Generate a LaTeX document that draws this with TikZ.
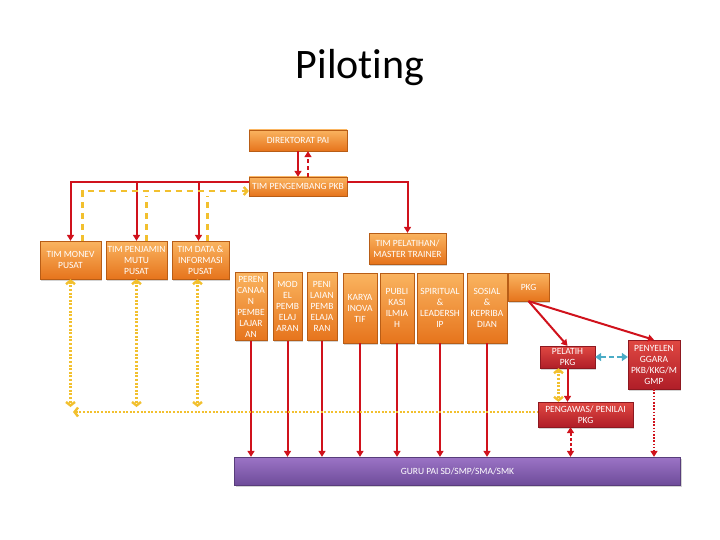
\documentclass[tikz,border=0pt]{standalone}
\usepackage{fontspec}
\setmainfont{Carlito}
\usetikzlibrary{arrows.meta,shadows}

\definecolor{oratas}{RGB}{250,180,96}
\definecolor{orbawah}{RGB}{230,116,28}
\definecolor{mratas}{RGB}{224,72,66}
\definecolor{mrbawah}{RGB}{176,30,40}
\definecolor{ungatas}{RGB}{156,116,198}
\definecolor{ungbawah}{RGB}{110,76,154}
\definecolor{merah}{RGB}{208,18,28}
\definecolor{kuning}{RGB}{242,192,46}
\definecolor{biru}{RGB}{75,172,198}

\begin{document}
\begin{tikzpicture}[x=1pt, y=-1pt]
	% Gaya kotak dan panah
	\tikzset{
		kotak/.style={rectangle, draw=orbawah!80!black, line width=0.3pt, top color=oratas, bottom color=orbawah, text=white, font=\fontsize{9.5}{11}\selectfont, align=center, inner sep=1pt, drop shadow={opacity=0.35, shadow xshift=1.2pt, shadow yshift=-1.5pt}},
		kotakmerah/.style={kotak, draw=mrbawah!80!black, top color=mratas, bottom color=mrbawah},
		kotakungu/.style={kotak, draw=ungbawah!80!black, top color=ungatas, bottom color=ungbawah},
		panah/.style={draw=merah, line width=2pt, -{Triangle[length=6pt, width=7pt]}},
		garisputus/.style={draw=kuning, line width=2.4pt, dash pattern=on 6pt off 5pt, -{Straight Barb[length=3.5pt, width=8pt]}},
		garistitik/.style={draw=kuning, line width=2.4pt, dash pattern=on 2pt off 1.6pt, {Straight Barb[length=3.5pt, width=9pt]}-{Straight Barb[length=3.5pt, width=9pt]}}
	}
	\useasboundingbox (0,0) rectangle (720,540);

	% Judul
	\node[font=\fontsize{42}{42}\selectfont\addfontfeature{Ligatures=NoCommon}] (judul) at (360,68) {Piloting};

	% Tingkat atas
	\node[kotak, minimum width=98pt, minimum height=21pt] (dir) at (298,140.5) {DIREKTORAT PAI};
	\node[kotak, minimum width=98pt, minimum height=19pt] (pkb) at (298,186.5) {TIM PENGEMBANG PKB};

	% Tim pusat
	\node[kotak, minimum width=61pt, minimum height=38pt] (monev) at (70.5,260) {TIM MONEV\\PUSAT};
	\node[kotak, minimum width=61pt, minimum height=38pt] (mutu) at (136.5,260) {TIM PENJAMIN\\MUTU\\PUSAT};
	\node[kotak, minimum width=57pt, minimum height=38pt] (data) at (200.5,260) {TIM DATA \&\\INFORMASI\\PUSAT};
	\node[kotak, minimum width=77pt, minimum height=31pt] (pelatihan) at (407.5,248.5) {TIM PELATIHAN/\\MASTER TRAINER};

	% Materi pelatihan
	\node[kotak, minimum width=32pt, minimum height=68pt] (perenc) at (251,306.5) {PEREN\\CANAA\\N\\PEMBE\\LAJAR\\AN};
	\node[kotak, minimum width=29pt, minimum height=68pt] (model) at (287.5,306.5) {MOD\\EL\\PEMB\\ELAJ\\ARAN};
	\node[kotak, minimum width=30pt, minimum height=68pt] (nilai) at (322,306.5) {PENI\\LAIAN\\PEMB\\ELAJA\\RAN};
	\node[kotak, minimum width=34pt, minimum height=70pt] (karya) at (360,308) {KARYA\\INOVA\\TIF};
	\node[kotak, minimum width=34pt, minimum height=70pt] (publik) at (397,308) {PUBLI\\KASI\\ILMIA\\H};
	\node[kotak, minimum width=46pt, minimum height=70pt] (spirit) at (440,308) {SPIRITUAL\\\&\\LEADERSH\\IP};
	\node[kotak, minimum width=40pt, minimum height=70pt] (sosial) at (487,308) {SOSIAL\\\&\\KEPRIBA\\DIAN};
	\node[kotak, minimum width=41pt, minimum height=28pt] (pkg) at (528.5,287) {PKG};

	% Pelaksana PKG
	\node[kotakmerah, minimum width=55pt, minimum height=22pt] (pelatih) at (567.5,357) {PELATIH\\PKG};
	\node[kotakmerah, minimum width=52pt, minimum height=49pt] (penyel) at (654,364.5) {PENYELEN\\GGARA\\PKB/KKG/M\\GMP};
	\node[kotakmerah, minimum width=95pt, minimum height=25pt] (pengawas) at (585.5,414.5) {PENGAWAS/ PENILAI\\PKG};

	% Sasaran
	\node[kotakungu, minimum width=446pt, minimum height=28pt] (guru) at (457.5,471) {GURU PAI SD/SMP/SMA/SMK};

	% Titik bantu
	\coordinate (kiri) at (73,412);
	\coordinate (bawah) at (0,407);

	% Direktorat - tim pengembang
	\draw[panah] (dir.south) -- (pkb.north);
	\draw[panah, dash pattern=on 4pt off 3pt] ([xshift=10pt]pkb.north) -- ([xshift=10pt]dir.south);

	% Tim pengembang ke tim pusat
	\draw[panah] ([yshift=4pt]pkb.west) -| (monev.north);
	\draw[panah] ([yshift=4pt]pkb.west) -| (mutu.north);
	\draw[panah] ([yshift=4pt]pkb.west) -| ([xshift=-2pt]data.north);
	\draw[panah] ([yshift=4pt]pkb.east) -| (pelatihan.north);

	% Umpan balik tim pusat
	\draw[garisputus] ([xshift=12pt]monev.north) |- ([yshift=-4.5pt]pkb.west);
	\draw[garisputus, -] ([xshift=10pt]mutu.north) -- ([xshift=10pt]mutu.north |- pkb.south);
	\draw[garisputus, -] ([xshift=7pt]data.north) -- ([xshift=7pt]data.north |- pkb.south);

	% Materi ke guru
	\foreach \k in {perenc, model, nilai, karya, publik, spirit, sosial}
		\draw[panah] (\k.south) -- (\k.south |- guru.north);

	% PKG
	\draw[panah] (pkg.south) -- (pelatih.north);
	\draw[panah] (pkg.south) -- (penyel.north);
	\draw[draw=biru, line width=2.4pt, dash pattern=on 5pt off 3pt, {Triangle[length=6pt, width=8pt]}-{Triangle[length=6pt, width=8pt]}] (pelatih.east) -- (pelatih.east -| penyel.west);
	\draw[garistitik] ([xshift=-9pt]pelatih.south) -- ([xshift=-9pt]pelatih.south |- pengawas.north);
	\draw[panah] (pelatih.south) -- (pelatih.south |- pengawas.north);
	\draw[panah, dash pattern=on 3pt off 2pt, {Triangle[length=6pt, width=7pt]}-{Triangle[length=6pt, width=7pt]}] ([xshift=-15pt]pengawas.south) -- ([xshift=-15pt]pengawas.south |- guru.north);
	\draw[panah, dash pattern=on 1.6pt off 1.6pt] (penyel.south) -- (penyel.south |- guru.north);

	% Monitoring tim pusat
	\draw[garistitik, {Straight Barb[length=3.5pt, width=9pt]}-] (kiri) -- (kiri -| pengawas.west);
	\draw[garistitik] (monev.south) -- (monev.south |- bawah);
	\draw[garistitik] (mutu.south) -- (mutu.south |- bawah);
	\draw[garistitik] ([xshift=-3pt]data.south) -- ([xshift=-3pt]data.south |- bawah);
\end{tikzpicture}
\end{document}
